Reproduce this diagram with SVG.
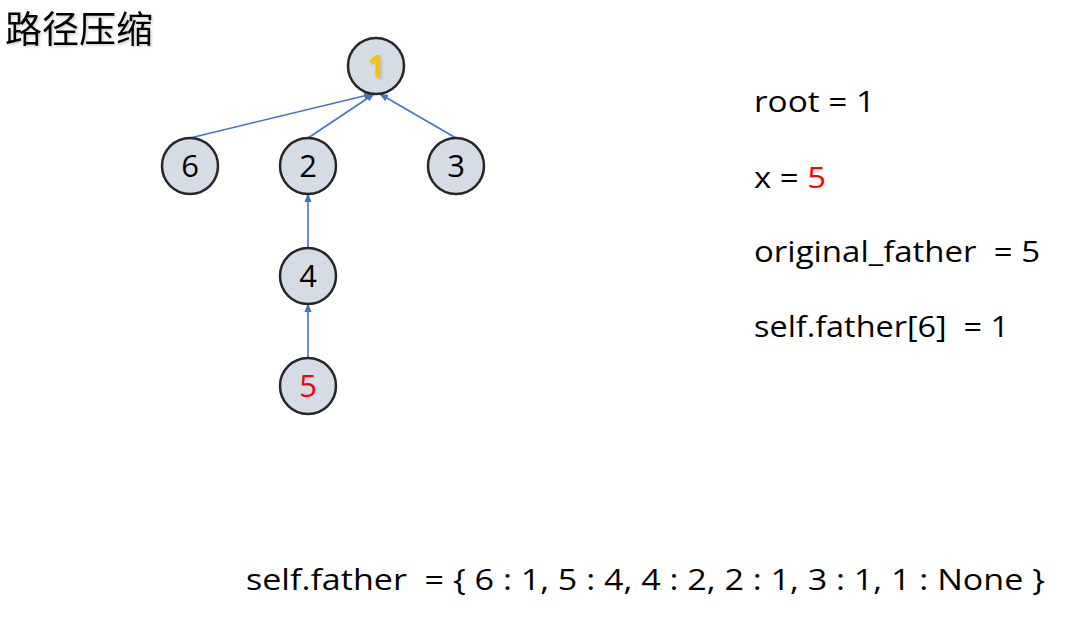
<svg xmlns="http://www.w3.org/2000/svg" width="1090" height="624" viewBox="0 0 1090 624">
  <style>
    .node circle { fill: #d6dce5; stroke: #262626; stroke-width: 2.5; }
    .node text { font-family: "Open Sans", "Liberation Sans", sans-serif; font-size: 31px; text-anchor: middle; fill: #000; }
    .edge { stroke: #4472c4; stroke-width: 1.6; fill: none; marker-end: url(#arrow); }
    .info { font-family: "Open Sans", "Liberation Sans", sans-serif; font-size: 29px; fill: #000; }
    .red { fill: #ff0000; }
  </style>
  <defs>
    <marker id="arrow" viewBox="0 0 10 10" refX="9" refY="5" markerWidth="9" markerHeight="9" orient="auto" markerUnits="userSpaceOnUse">
      <path d="M0,1 L10,5 L0,9 z" fill="#4472c4"/>
    </marker>
    <filter id="shadow" x="-10%" y="-10%" width="130%" height="130%">
      <feDropShadow dx="1.5" dy="1.5" stdDeviation="1" flood-color="#000" flood-opacity="0.2"/>
    </filter>
  </defs>
  <rect width="1090" height="624" fill="#ffffff"/>

  <!-- title -->
  <text x="5" y="43" font-family="Noto Sans CJK SC, sans-serif" font-size="37" fill="#000" filter="url(#shadow)">路径压缩</text>

  <!-- parent links -->
  <g id="connectors">
    <line class="edge" x1="190" y1="138" x2="372" y2="94"/>
    <line class="edge" x1="308" y1="138" x2="374" y2="94"/>
    <line class="edge" x1="456" y1="138" x2="380" y2="94"/>
    <line class="edge" x1="308" y1="248" x2="308" y2="194"/>
    <line class="edge" x1="308" y1="358" x2="308" y2="304"/>
  </g>

  <g id="node-1" class="node">
    <circle cx="376" cy="66" r="28"/>
    <text x="376" y="77" style="fill:#ffc000;font-weight:bold" filter="url(#shadow)">1</text>
  </g>
  <g id="node-6" class="node">
    <circle cx="190" cy="166" r="28"/>
    <text x="190" y="177">6</text>
  </g>
  <g id="node-2" class="node">
    <circle cx="308" cy="166" r="28"/>
    <text x="308" y="177">2</text>
  </g>
  <g id="node-3" class="node">
    <circle cx="456" cy="166" r="28"/>
    <text x="456" y="177">3</text>
  </g>
  <g id="node-4" class="node">
    <circle cx="308" cy="276" r="28"/>
    <text x="308" y="287">4</text>
  </g>
  <g id="node-5" class="node">
    <circle cx="308" cy="386" r="28"/>
    <text x="308" y="397" style="fill:#ff0000">5</text>
  </g>

  <!-- variable state -->
  <g id="state">
    <text class="info" x="754" y="112" textLength="121" lengthAdjust="spacingAndGlyphs">root = 1</text>
    <text class="info" x="754" y="188" textLength="72" lengthAdjust="spacingAndGlyphs">x = <tspan class="red">5</tspan></text>
    <text class="info" x="754" y="262" textLength="286" lengthAdjust="spacingAndGlyphs" xml:space="preserve">original_father  = 5</text>
    <text class="info" x="754" y="337" textLength="255" lengthAdjust="spacingAndGlyphs" xml:space="preserve">self.father[6]  = 1</text>
    <text class="info" x="246" y="590" textLength="799" lengthAdjust="spacingAndGlyphs" xml:space="preserve">self.father  = { 6 : 1, 5 : 4, 4 : 2, 2 : 1, 3 : 1, 1 : None }</text>
  </g>
</svg>
